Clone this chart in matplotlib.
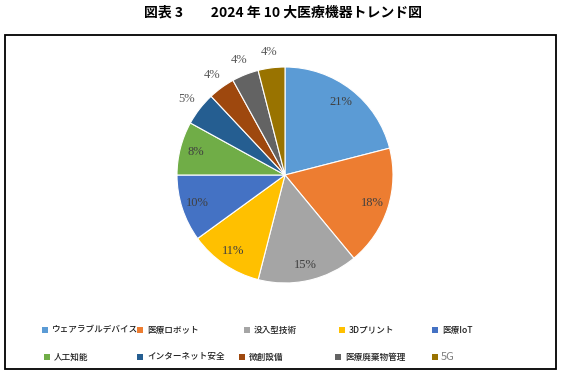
import matplotlib.pyplot as plt
import numpy as np
from matplotlib.patches import Rectangle

plt.rcParams['font.family'] = ['Noto Sans CJK JP', 'DejaVu Sans']

categories = ['ウェアラブルデバイス', '医療ロボット', '没入型技術', '3Dプリント', '医療IoT',
              '人工知能', 'インターネット安全', '微創設備', '医療廃棄物管理', '5G']
shares = [21, 18, 15, 11, 10, 8, 5, 4, 4, 4]
colors = ['#5B9BD5', '#ED7D31', '#A5A5A5', '#FFC000', '#4472C4',
          '#70AD47', '#255E91', '#9E480E', '#636363', '#997300']

W, H = 565, 380
fig = plt.figure(figsize=(W / 100, H / 100), dpi=100)

# outer frame
fig.patches.append(Rectangle((5 / W, 1 - 369 / H), 551 / W, 334 / H, transform=fig.transFigure,
                             fill=False, edgecolor='black', linewidth=1.3))

fig.text(283 / W, 1 - 13 / H, '図表 3　　2024 年 10 大医療機器トレンド図',
         ha='center', va='center', fontsize=10, fontweight='bold')

# pie: centre (285,175), radius 108 px
cx, cy, r = 285, 175, 108
ax = fig.add_axes([(cx - r) / W, 1 - (cy + r) / H, 2 * r / W, 2 * r / H])
wedges, texts = ax.pie(shares, colors=colors, startangle=90, counterclock=False,
                       wedgeprops=dict(edgecolor='white', linewidth=0.8))
ax.set_xlim(-1, 1)
ax.set_ylim(-1, 1)
ax.set_aspect('equal')

start = 90.0
for v in shares:
    mid = np.deg2rad(start - v * 3.6 / 2)
    start -= v * 3.6
    if v >= 8:
        d, col = 0.85, '#404040'
    else:
        d, col = 1.15, '#595959'
    ax.text(d * np.cos(mid), d * np.sin(mid), f'{v}%', ha='center', va='center',
            fontsize=9, color=col, family='Liberation Serif', clip_on=False)

# legend, 2 rows x 5 columns
col_x = [[45, 140, 247, 342, 435], [47, 140, 242, 338, 435]]
row_y = [330, 357]
for i, (name, c) in enumerate(zip(categories, colors)):
    row, col = divmod(i, 5)
    x, y = col_x[row][col], row_y[row]
    fig.patches.append(Rectangle(((x - 3) / W, 1 - (y + 3) / H), 6 / W, 6 / H,
                                 transform=fig.transFigure, facecolor=c, edgecolor='none'))
    if name == '5G':
        fig.text((x + 6) / W, 1 - y / H, name, ha='left', va='center', fontsize=8,
                 color='#808080')
    else:
        fig.text((x + 7) / W, 1 - y / H, name, ha='left', va='center', fontsize=6.2,
                 color='#202020', fontweight='medium')

fig.savefig('out.png', dpi=100)
